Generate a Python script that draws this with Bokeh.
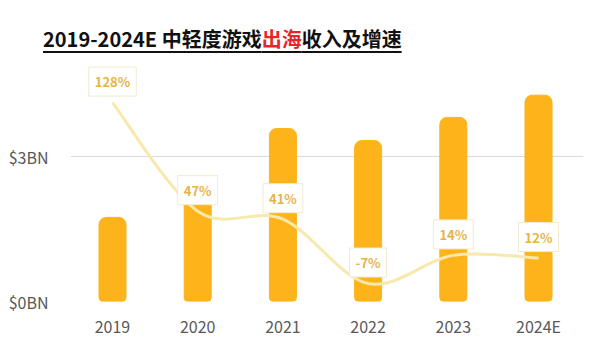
from bokeh.plotting import figure
from bokeh.models import Range1d, FixedTicker, ColumnDataSource, Label, Div
from bokeh.layouts import column
from bokeh.embed import file_html
from bokeh.resources import INLINE
import numpy as np

years = ["2019", "2020", "2021", "2022", "2023", "2024E"]
revenue_bn = [1.74, 2.56, 3.58, 3.33, 3.81, 4.27]
growth_pct = [128, 47, 41, -7, 14, 12]
growth_labels = ["128%", "47%", "41%", "-7%", "14%", "12%"]
y_ticks = [0, 3]
y_tick_labels = {0: "$0BN", 3: "$3BN"}

BAR = "#fdb41b"
LINE = "#f7e8ac"
LBL = "#e6b446"
FONT = "Noto Sans CJK SC"

xs = list(range(len(years)))

p = figure(width=595, height=294, output_backend="svg", toolbar_location=None,
           x_range=Range1d(-0.493, 5.528), y_range=Range1d(0, 4.987),
           min_border_left=70, min_border_right=12, min_border_top=0, min_border_bottom=53,
           margin=0)
p.outline_line_color = None
p.background_fill_color = "white"
p.border_fill_color = "white"
p.extra_y_ranges = {"g": Range1d(-20.4, 159.4)}

src = ColumnDataSource(dict(x=xs, rev=revenue_bn, g=growth_pct, lab=growth_labels))

p.vbar(x="x", top="rev", width=0.317, bottom=0, source=src, color=BAR,
       border_radius=(7, 7, 4, 4))

# smoothed curve through the growth points (cubic Bezier segments, Catmull-Rom style)
gx = np.array(xs, dtype=float)
gy = np.array(growth_pct, dtype=float)
n = len(gx)
s = 1.0 / 6.0
x0, y0, x1, y1, cx0, cy0, cx1, cy1 = [], [], [], [], [], [], [], []
for i in range(n - 1):
    ip = max(i - 1, 0)
    inn = min(i + 2, n - 1)
    x0.append(gx[i]); y0.append(gy[i]); x1.append(gx[i + 1]); y1.append(gy[i + 1])
    cx0.append(gx[i] + s * (gx[i + 1] - gx[ip]))
    cy0.append(gy[i] + s * (gy[i + 1] - gy[ip]))
    cx1.append(gx[i + 1] - s * (gx[inn] - gx[i]))
    cy1.append(gy[i + 1] - s * (gy[inn] - gy[i]))
p.bezier(x0=x0, y0=y0, x1=x1, y1=y1, cx0=cx0, cy0=cy0, cx1=cx1, cy1=cy1,
         line_color=LINE, line_width=3, y_range_name="g")

for xi, gi, li in zip(xs, growth_pct, growth_labels):
    p.add_layout(Label(x=xi, y=gi, text=li, y_range_name="g", y_offset=21,
                       text_align="center", text_baseline="middle",
                       text_font=FONT, text_font_size="13px", text_font_style="bold",
                       text_color=LBL, background_fill_color="white",
                       border_line_color="#f1ead0", border_line_width=1, padding=(6, 5)))

p.yaxis.ticker = FixedTicker(ticks=y_ticks)
p.yaxis.major_label_overrides = y_tick_labels
p.yaxis.axis_line_color = None
p.yaxis.major_tick_line_color = None
p.yaxis.minor_tick_line_color = None
p.yaxis.major_label_standoff = 16
p.yaxis.major_label_text_font = FONT
p.yaxis.major_label_text_font_size = "16px"
p.yaxis.major_label_text_color = "#595959"

p.xaxis.ticker = FixedTicker(ticks=xs)
p.xaxis.major_label_overrides = {i: y for i, y in enumerate(years)}
p.xaxis.axis_line_color = None
p.xaxis.major_tick_line_color = None
p.xaxis.minor_tick_line_color = None
p.xaxis.major_label_standoff = 6
p.xaxis.major_label_text_font = FONT
p.xaxis.major_label_text_font_size = "16px"
p.xaxis.major_label_text_color = "#595959"

p.xgrid.grid_line_color = None
p.ygrid.ticker = FixedTicker(ticks=y_ticks)
p.ygrid.grid_line_color = "#d9d9d9"
p.ygrid.grid_line_width = 1

title_html = (
    '<div style="margin:0;padding:24px 0 0 43px;font-family:\'Noto Sans CJK SC\',sans-serif;'
    'font-size:20px;font-weight:bold;line-height:29px;color:#111111;white-space:nowrap;'
    'text-decoration:underline;text-decoration-thickness:2px;text-underline-offset:4px;">'
    '2019-2024E 中轻度游戏<span style="color:#e8262a">出海</span>收入及增速</div>'
)
title = Div(text=title_html, width=595, height=60, margin=0)

layout = column(title, p, spacing=0, margin=0)
open("out.html", "w").write(file_html(layout, INLINE))
